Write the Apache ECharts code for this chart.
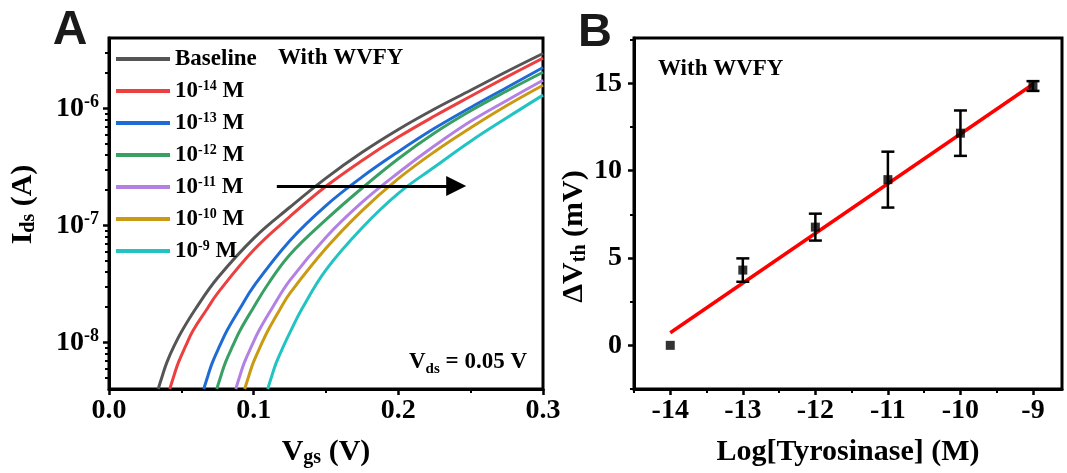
<!DOCTYPE html>
<html><head><meta charset="utf-8">
<script src="https://cdn.jsdelivr.net/npm/echarts@6/dist/echarts.min.js"></script>
<style>html,body{margin:0;padding:0;background:#fff}#c{width:1067px;height:473px}</style>
</head><body><div id="c"></div>
<script>
// ---------- Panel A : transfer curves ----------
const seriesNamesA = ['Baseline', '10^-14 M', '10^-13 M', '10^-12 M', '10^-11 M', '10^-10 M', '10^-9 M'];
const colorsA = ['#555555', '#ec3f3f', '#1f6bd6', '#37a062', '#b381e3', '#c99a12', '#22c3c3'];
const vgsBaseline = [0.034, 0.037, 0.040, 0.045, 0.050, 0.060, 0.075, 0.100, 0.125, 0.150, 0.175, 0.200, 0.225, 0.250, 0.275, 0.300];
const idsBaseline = [4.0e-9, 5.25e-9, 6.76e-9, 9.33e-9, 1.23e-8, 1.95e-8, 3.55e-8, 7.76e-8, 1.43e-7, 2.54e-7, 4.22e-7, 6.61e-7, 9.89e-7, 1.43e-6, 2.07e-6, 2.95e-6];
const vgs14 = [0.042, 0.045, 0.048, 0.053, 0.058, 0.068, 0.075, 0.100, 0.125, 0.150, 0.175, 0.200, 0.225, 0.250, 0.275, 0.300];
const ids14 = [4.0e-9, 5.25e-9, 6.76e-9, 9.33e-9, 1.26e-8, 1.95e-8, 2.63e-8, 6.17e-8, 1.19e-7, 2.16e-7, 3.59e-7, 5.69e-7, 8.61e-7, 1.27e-6, 1.86e-6, 2.69e-6];
const vgs13 = [0.0655, 0.0685, 0.0715, 0.0765, 0.0815, 0.0905, 0.100, 0.125, 0.150, 0.175, 0.200, 0.225, 0.250, 0.275, 0.300];
const ids13 = [4.0e-9, 5.25e-9, 6.76e-9, 9.33e-9, 1.26e-8, 1.95e-8, 3.02e-8, 7.41e-8, 1.48e-7, 2.60e-7, 4.27e-7, 6.76e-7, 1.02e-6, 1.51e-6, 2.24e-6];
const vgs12 = [0.0745, 0.0775, 0.0805, 0.0855, 0.0905, 0.0995, 0.110, 0.125, 0.150, 0.175, 0.200, 0.225, 0.250, 0.275, 0.300];
const ids12 = [4.0e-9, 5.25e-9, 6.76e-9, 9.33e-9, 1.26e-8, 1.95e-8, 3.16e-8, 5.62e-8, 1.12e-7, 2.09e-7, 3.72e-7, 6.17e-7, 9.55e-7, 1.41e-6, 2.04e-6];
const vgs11 = [0.0876, 0.0906, 0.0936, 0.0986, 0.1036, 0.1126, 0.125, 0.150, 0.175, 0.200, 0.225, 0.250, 0.275, 0.300];
const ids11 = [4.0e-9, 5.25e-9, 6.76e-9, 9.33e-9, 1.26e-8, 1.95e-8, 3.39e-8, 7.94e-8, 1.58e-7, 2.82e-7, 4.79e-7, 7.76e-7, 1.17e-6, 1.74e-6];
const vgs10 = [0.0938, 0.0968, 0.0998, 0.1048, 0.1098, 0.1185, 0.125, 0.150, 0.175, 0.200, 0.225, 0.250, 0.275, 0.300];
const ids10 = [4.0e-9, 5.25e-9, 6.76e-9, 9.33e-9, 1.26e-8, 1.95e-8, 2.63e-8, 6.38e-8, 1.34e-7, 2.51e-7, 4.27e-7, 6.84e-7, 1.06e-6, 1.58e-6];
const vgs9 = [0.1097, 0.1127, 0.1157, 0.1207, 0.1257, 0.1335, 0.150, 0.175, 0.200, 0.225, 0.250, 0.275, 0.300];
const ids9 = [4.0e-9, 5.25e-9, 6.76e-9, 9.33e-9, 1.26e-8, 1.95e-8, 4.17e-8, 9.55e-8, 1.88e-7, 3.16e-7, 5.25e-7, 8.32e-7, 1.30e-6];
const arrowVgs = [0.116, 0.240];
const arrowIds = 2.17e-7;
const aYMajor = [1e-8, 1e-7, 1e-6];
const aYMinor = [5e-9, 6e-9, 7e-9, 8e-9, 9e-9, 2e-8, 3e-8, 4e-8, 5e-8, 6e-8, 7e-8, 8e-8, 9e-8,
                 2e-7, 3e-7, 4e-7, 5e-7, 6e-7, 7e-7, 8e-7, 9e-7, 2e-6, 3e-6];

// ---------- Panel B : calibration ----------
const logConc = [-14, -13, -12, -11, -10, -9];
const deltaVth = [0, 4.31, 6.77, 9.49, 12.15, 14.85];
const deltaVthErr = [0, 0.67, 0.77, 1.6, 1.3, 0.28];
const fitX = [-14, -9];
const fitY = [0.72, 14.95];
const bXMajor = [-14, -13, -12, -11, -10, -9];
const bXMinor = [-14.5, -13.5, -12.5, -11.5, -10.5, -9.5];
const bYMajor = [0, 5, 10, 15];
const bYMinor = [-2.5, 2.5, 7.5, 12.5, 17.5];

const FONT = "'Liberation Serif', 'Times New Roman', serif";
const vgsAll = [vgsBaseline, vgs14, vgs13, vgs12, vgs11, vgs10, vgs9];
const idsAll = [idsBaseline, ids14, ids13, ids12, ids11, ids10, ids9];

const lab = (size) => ({fontFamily: FONT, fontWeight: 'bold', fontSize: size, color: '#000'});
const axisLine = {show: true, onZero: false, lineStyle: {color: '#000', width: 3}};

const chart = echarts.init(document.getElementById('c'), null, {renderer: 'canvas'});

const seriesA = seriesNamesA.map((n, k) => ({
  name: n, type: 'line', xAxisIndex: 0, yAxisIndex: 0,
  data: vgsAll[k].map((v, i) => [v, idsAll[k][i]]),
  showSymbol: false, smooth: 0.4, color: colorsA[k],
  lineStyle: {width: 3, color: colorsA[k]}, z: 3, silent: true
}));

const option = {
  animation: false,
  backgroundColor: '#fff',
  grid: [
    {left: 109, top: 38, width: 434, height: 351, show: true, borderColor: '#000', borderWidth: 3, containLabel: false},
    {left: 634, top: 38, width: 428, height: 351, show: true, borderColor: '#000', borderWidth: 3, containLabel: false}
  ],
  legend: {
    data: seriesNamesA, orient: 'vertical', left: 116, top: 47, itemGap: 8, padding: 0,
    itemWidth: 54, itemHeight: 4, icon: 'rect', selectedMode: false,
    formatter: (n) => n.replace(/\^(-?\d+)/, '{sup|$1}'),
    textStyle: Object.assign(lab(23), {lineHeight: 24, rich: {sup: Object.assign(lab(14), {lineHeight: 14, verticalAlign: 'top'})}})
  },
  xAxis: [
    {gridIndex: 0, type: 'value', min: 0, max: 0.3, interval: 0.1,
     axisLine, splitLine: {show: false},
     axisTick: {show: true, length: 6, lineStyle: {color: '#000', width: 2.5}},
     minorTick: {show: true, splitNumber: 2, length: 4, lineStyle: {color: '#000', width: 2}},
     axisLabel: Object.assign(lab(28), {margin: 8, formatter: (v) => v.toFixed(1)}),
     name: 'V{sub|gs} (V)', nameLocation: 'middle', nameGap: 47,
     nameTextStyle: Object.assign(lab(30), {lineHeight: 32, rich: {sub: Object.assign(lab(20), {lineHeight: 16, verticalAlign: 'bottom'})}})},
    {gridIndex: 1, type: 'value', min: -14.5, max: -8.6,
     axisLine, splitLine: {show: false},
     axisTick: {show: true, length: 6, customValues: bXMajor, lineStyle: {color: '#000', width: 2.5}},
     axisLabel: Object.assign(lab(28), {margin: 8, customValues: bXMajor, formatter: (v) => String(v)}),
     name: 'Log[Tyrosinase] (M)', nameLocation: 'middle', nameGap: 47,
     nameTextStyle: Object.assign(lab(30), {lineHeight: 32})},
    {gridIndex: 1, type: 'value', min: -14.5, max: -8.6, position: 'bottom',
     axisLine: {show: false, onZero: false}, splitLine: {show: false}, axisLabel: {show: false},
     axisTick: {show: true, length: 4, customValues: bXMinor, lineStyle: {color: '#000', width: 2}}}
  ],
  yAxis: [
    {gridIndex: 0, type: 'log', logBase: 10, min: 4e-9, max: 4e-6, position: 'left',
     axisLine, splitLine: {show: false}, minorTick: {show: false},
     axisTick: {show: true, length: 6, customValues: aYMajor, lineStyle: {color: '#000', width: 2.5}},
     axisLabel: Object.assign(lab(28), {margin: 10, customValues: aYMajor,
       formatter: (v) => '10{sup|' + Math.round(Math.log10(v)) + '}',
       rich: {sup: Object.assign(lab(18), {lineHeight: 16, verticalAlign: 'top'})}, lineHeight: 30}),
     name: 'I{sub|ds} (A)', nameLocation: 'middle', nameGap: 70,
     nameTextStyle: Object.assign(lab(30), {lineHeight: 32, padding: [0, 0, 0, 18],
       rich: {sub: Object.assign(lab(20), {lineHeight: 14, verticalAlign: 'bottom'})}})},
    {gridIndex: 0, type: 'log', logBase: 10, min: 4e-9, max: 4e-6, position: 'left',
     axisLine: {show: false, onZero: false}, splitLine: {show: false}, axisLabel: {show: false},
     axisTick: {show: true, length: 4, customValues: aYMinor, lineStyle: {color: '#000', width: 2}}},
    {gridIndex: 1, type: 'value', min: -2.5, max: 17.6, position: 'left',
     axisLine, splitLine: {show: false},
     axisTick: {show: true, length: 6, customValues: bYMajor, lineStyle: {color: '#000', width: 2.5}},
     axisLabel: Object.assign(lab(28), {margin: 12, customValues: bYMajor, formatter: (v) => String(v)}),
     name: 'ΔV{sub|th} (mV)', nameLocation: 'middle', nameGap: 43,
     nameTextStyle: Object.assign(lab(30), {lineHeight: 32, padding: [0, 46, 0, 0],
       rich: {sub: Object.assign(lab(20), {lineHeight: 14, verticalAlign: 'bottom'})}})},
    {gridIndex: 1, type: 'value', min: -2.5, max: 17.6, position: 'left',
     axisLine: {show: false, onZero: false}, splitLine: {show: false}, axisLabel: {show: false},
     axisTick: {show: true, length: 4, customValues: bYMinor, lineStyle: {color: '#000', width: 2}}}
  ],
  series: seriesA.concat([
    {name: 'arrow', type: 'line', xAxisIndex: 0, yAxisIndex: 0, data: [], silent: true,
     markLine: {silent: true, symbol: ['none', 'triangle'], symbolSize: 20, label: {show: false},
       itemStyle: {color: '#000'},
       lineStyle: {color: '#000', width: 3, type: 'solid'}, emphasis: {disabled: true},
       data: [[{coord: [arrowVgs[0], arrowIds]}, {coord: [arrowVgs[1], arrowIds]}]]}, z: 5},
    {name: 'fit', type: 'line', xAxisIndex: 1, yAxisIndex: 2, data: fitX.map((x, i) => [x, fitY[i]]),
     showSymbol: false, lineStyle: {color: '#ff0000', width: 3.5}, color: '#ff0000', z: 2, silent: true},
    {name: 'err', type: 'custom', xAxisIndex: 1, yAxisIndex: 2, z: 4, silent: true,
     data: logConc.map((x, i) => [x, deltaVth[i], deltaVthErr[i]]),
     renderItem: (params, api) => {
       const x = api.value(0), y = api.value(1), e = api.value(2);
       if (!e) return null;
       const t = api.coord([x, y + e]), b = api.coord([x, y - e]);
       const cw = 6.5, st = {stroke: '#000', lineWidth: 2.5};
       return {type: 'group', children: [
         {type: 'line', shape: {x1: t[0], y1: t[1], x2: b[0], y2: b[1]}, style: st},
         {type: 'line', shape: {x1: t[0] - cw, y1: t[1], x2: t[0] + cw, y2: t[1]}, style: st},
         {type: 'line', shape: {x1: b[0] - cw, y1: b[1], x2: b[0] + cw, y2: b[1]}, style: st}
       ]};
     }},
    {name: 'data', type: 'scatter', xAxisIndex: 1, yAxisIndex: 2, symbol: 'rect', symbolSize: 9,
     data: logConc.map((x, i) => [x, deltaVth[i]]), itemStyle: {color: '#000'}, z: 5, silent: true}
  ]),
  graphic: [
    {type: 'text', x: 70, y: 31, style: {text: 'A', fontFamily: "'Liberation Sans', Arial, sans-serif", fontWeight: 'bold', fontSize: 48, fill: '#1a1a1a', align: 'center', verticalAlign: 'middle'}},
    {type: 'text', x: 595, y: 33, style: {text: 'B', fontFamily: "'Liberation Sans', Arial, sans-serif", fontWeight: 'bold', fontSize: 47, fill: '#1a1a1a', align: 'center', verticalAlign: 'middle'}},
    {type: 'text', x: 278, y: 58, style: {text: 'With WVFY', fontFamily: FONT, fontWeight: 'bold', fontSize: 23, fill: '#000', align: 'left', verticalAlign: 'middle'}},
    {type: 'text', x: 658, y: 69, style: {text: 'With WVFY', fontFamily: FONT, fontWeight: 'bold', fontSize: 23, fill: '#000', align: 'left', verticalAlign: 'middle'}},
    {type: 'text', x: 527, y: 362, style: {text: 'V{sub|ds} = 0.05 V', fontFamily: FONT, fontWeight: 'bold', fontSize: 23, fill: '#000',
      align: 'right', verticalAlign: 'middle', lineHeight: 30,
      rich: {sub: {fontFamily: FONT, fontWeight: 'bold', fontSize: 15, fill: '#000', lineHeight: 10, verticalAlign: 'bottom'}}}}
  ]
};
chart.setOption(option);
</script></body></html>
